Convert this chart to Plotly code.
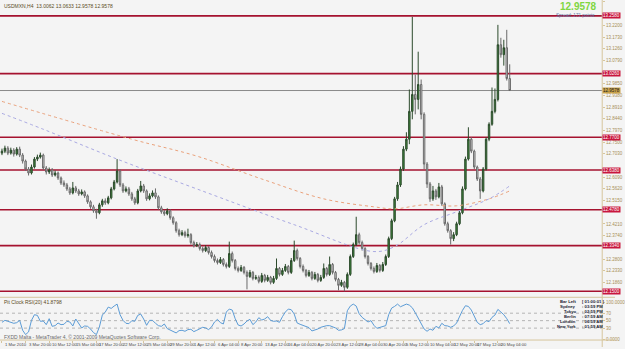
import plotly.graph_objects as go

# ---------------- data ----------------
symbol_header = "USDMXN,H4  13.0062 13.0633 12.9578 12.9578"
bid_price = 12.9578
spread_text = "Spread: 171 points"

bars = list(range(173))

opens = [12.706, 12.714, 12.726, 12.706, 12.718, 12.702, 12.722, 12.698, 12.674, 12.642,
 12.626, 12.650, 12.682, 12.690, 12.698, 12.646, 12.630, 12.638, 12.618, 12.626,
 12.606, 12.586, 12.578, 12.562, 12.546, 12.566, 12.554, 12.542, 12.550, 12.534,
 12.510, 12.490, 12.474, 12.466, 12.498, 12.514, 12.506, 12.526, 12.562, 12.590,
 12.634, 12.578, 12.554, 12.562, 12.542, 12.522, 12.506, 12.554, 12.574, 12.554,
 12.522, 12.534, 12.546, 12.530, 12.486, 12.470, 12.462, 12.474, 12.446, 12.426,
 12.394, 12.378, 12.386, 12.374, 12.378, 12.346, 12.334, 12.338, 12.322, 12.314,
 12.326, 12.306, 12.290, 12.274, 12.266, 12.278, 12.258, 12.250, 12.302, 12.274,
 12.242, 12.234, 12.246, 12.226, 12.210, 12.226, 12.202, 12.206, 12.190, 12.214,
 12.194, 12.206, 12.186, 12.202, 12.242, 12.218, 12.234, 12.250, 12.226, 12.274,
 12.314, 12.282, 12.250, 12.234, 12.214, 12.226, 12.202, 12.218, 12.194, 12.206,
 12.242, 12.218, 12.258, 12.226, 12.198, 12.174, 12.186, 12.166, 12.218, 12.290,
 12.338, 12.378, 12.346, 12.322, 12.290, 12.262, 12.242, 12.230, 12.254, 12.234,
 12.258, 12.290, 12.362, 12.434, 12.522, 12.578, 12.642, 12.722, 12.762, 12.874,
 12.942, 12.922, 12.982, 12.862, 12.662, 12.582, 12.522, 12.554, 12.530, 12.570,
 12.502, 12.422, 12.394, 12.362, 12.378, 12.422, 12.466, 12.562, 12.682, 12.762,
 12.714, 12.650, 12.602, 12.554, 12.642, 12.762, 12.822, 12.874, 12.922, 13.142,
 13.102, 13.130, 13.0062]

highs = [12.724, 12.736, 12.734, 12.728, 12.726, 12.730, 12.732, 12.706, 12.680, 12.650,
 12.660, 12.690, 12.700, 12.708, 12.704, 12.654, 12.648, 12.646, 12.636, 12.632,
 12.612, 12.596, 12.586, 12.570, 12.590, 12.574, 12.562, 12.560, 12.556, 12.540,
 12.516, 12.498, 12.482, 12.506, 12.522, 12.524, 12.534, 12.570, 12.598, 12.682,
 12.642, 12.586, 12.572, 12.570, 12.550, 12.530, 12.562, 12.594, 12.582, 12.560,
 12.544, 12.556, 12.564, 12.536, 12.494, 12.478, 12.484, 12.480, 12.452, 12.432,
 12.402, 12.396, 12.394, 12.402, 12.384, 12.354, 12.348, 12.346, 12.330, 12.336,
 12.332, 12.314, 12.298, 12.282, 12.288, 12.284, 12.266, 12.350, 12.310, 12.280,
 12.250, 12.256, 12.252, 12.234, 12.236, 12.232, 12.216, 12.214, 12.224, 12.220,
 12.216, 12.212, 12.212, 12.282, 12.248, 12.244, 12.260, 12.256, 12.284, 12.354,
 12.322, 12.288, 12.258, 12.240, 12.236, 12.232, 12.228, 12.224, 12.216, 12.262,
 12.248, 12.290, 12.264, 12.232, 12.204, 12.196, 12.192, 12.226, 12.298, 12.346,
 12.450, 12.386, 12.354, 12.328, 12.296, 12.268, 12.250, 12.264, 12.260, 12.268,
 12.298, 12.370, 12.442, 12.530, 12.590, 12.652, 12.734, 12.790, 12.962, 13.254,
 13.022, 13.114, 13.002, 12.870, 12.670, 12.590, 12.574, 12.562, 12.586, 12.578,
 12.508, 12.430, 12.400, 12.388, 12.430, 12.474, 12.572, 12.692, 12.810, 12.770,
 12.720, 12.656, 12.610, 12.650, 12.770, 12.830, 12.970, 12.966, 13.222, 13.170,
 13.162, 13.202, 13.0633]

lows = [12.698, 12.706, 12.698, 12.700, 12.692, 12.696, 12.690, 12.664, 12.634, 12.616,
 12.620, 12.644, 12.674, 12.684, 12.638, 12.620, 12.622, 12.610, 12.612, 12.598,
 12.578, 12.570, 12.554, 12.538, 12.540, 12.546, 12.534, 12.536, 12.526, 12.502,
 12.482, 12.466, 12.442, 12.460, 12.490, 12.498, 12.500, 12.520, 12.556, 12.584,
 12.570, 12.546, 12.548, 12.534, 12.514, 12.498, 12.500, 12.548, 12.546, 12.514,
 12.516, 12.528, 12.522, 12.478, 12.462, 12.454, 12.456, 12.438, 12.418, 12.386,
 12.370, 12.372, 12.366, 12.366, 12.338, 12.326, 12.328, 12.314, 12.306, 12.308,
 12.298, 12.282, 12.266, 12.258, 12.260, 12.250, 12.242, 12.244, 12.266, 12.234,
 12.226, 12.228, 12.218, 12.158, 12.204, 12.194, 12.196, 12.182, 12.184, 12.186,
 12.188, 12.178, 12.180, 12.196, 12.210, 12.212, 12.228, 12.218, 12.220, 12.268,
 12.274, 12.242, 12.226, 12.206, 12.208, 12.194, 12.196, 12.186, 12.188, 12.200,
 12.210, 12.212, 12.218, 12.190, 12.154, 12.168, 12.150, 12.160, 12.212, 12.284,
 12.332, 12.338, 12.314, 12.282, 12.254, 12.234, 12.222, 12.224, 12.226, 12.228,
 12.252, 12.284, 12.356, 12.428, 12.514, 12.570, 12.634, 12.714, 12.742, 12.842,
 12.862, 12.882, 12.842, 12.642, 12.566, 12.510, 12.514, 12.518, 12.524, 12.494,
 12.414, 12.386, 12.338, 12.352, 12.372, 12.416, 12.460, 12.556, 12.676, 12.706,
 12.642, 12.594, 12.522, 12.548, 12.636, 12.754, 12.816, 12.866, 12.914, 13.090,
 13.058, 12.998, 12.9578]

closes = [12.714, 12.726, 12.706, 12.718, 12.702, 12.722, 12.698, 12.674, 12.642, 12.626,
 12.650, 12.682, 12.690, 12.698, 12.646, 12.630, 12.638, 12.618, 12.626, 12.606,
 12.586, 12.578, 12.562, 12.546, 12.566, 12.554, 12.542, 12.550, 12.534, 12.510,
 12.490, 12.474, 12.466, 12.498, 12.514, 12.506, 12.526, 12.562, 12.590, 12.634,
 12.578, 12.554, 12.562, 12.542, 12.522, 12.506, 12.554, 12.574, 12.554, 12.522,
 12.534, 12.546, 12.530, 12.486, 12.470, 12.462, 12.474, 12.446, 12.426, 12.394,
 12.378, 12.386, 12.374, 12.378, 12.346, 12.334, 12.338, 12.322, 12.314, 12.326,
 12.306, 12.290, 12.274, 12.266, 12.278, 12.258, 12.250, 12.302, 12.274, 12.242,
 12.234, 12.246, 12.226, 12.210, 12.226, 12.202, 12.206, 12.190, 12.214, 12.194,
 12.206, 12.186, 12.202, 12.242, 12.218, 12.234, 12.250, 12.226, 12.274, 12.314,
 12.282, 12.250, 12.234, 12.214, 12.226, 12.202, 12.218, 12.194, 12.206, 12.242,
 12.218, 12.258, 12.226, 12.198, 12.174, 12.186, 12.166, 12.218, 12.290, 12.338,
 12.378, 12.346, 12.322, 12.290, 12.262, 12.242, 12.230, 12.254, 12.234, 12.258,
 12.290, 12.362, 12.434, 12.522, 12.578, 12.642, 12.722, 12.762, 12.874, 12.942,
 12.922, 12.982, 12.862, 12.662, 12.582, 12.522, 12.554, 12.530, 12.570, 12.502,
 12.422, 12.394, 12.362, 12.378, 12.422, 12.466, 12.562, 12.682, 12.762, 12.714,
 12.650, 12.602, 12.554, 12.642, 12.762, 12.822, 12.874, 12.922, 13.142, 13.102,
 13.130, 13.006, 12.9578]

rsi = [45.5, 50.8, 48.2, 45.5, 42.9, 44.6, 50.8, 24.2, 12.6, 19.7,
 50.8, 66.0, 64.2, 48.2, 49.1, 39.3, 55.3, 34.8, 36.6, 43.7,
 39.3, 40.2, 48.2, 46.4, 35.7, 54.4, 41.9, 30.4, 35.7, 34.8,
 27.7, 18.0, 12.6, 33.1, 65.1, 73.1, 86.4, 82.8, 89.1, 94.4,
 66.0, 50.8, 42.9, 41.9, 50.0, 48.2, 64.2, 67.7, 54.4, 37.5,
 50.8, 50.8, 42.9, 36.6, 34.8, 41.1, 28.6, 25.1, 20.6, 17.1,
 23.3, 24.2, 21.5, 26.0, 26.9, 20.6, 24.2, 27.7, 32.2, 30.4,
 26.0, 33.1, 46.4, 53.5, 44.6, 41.1, 73.1, 81.1, 78.4, 55.3,
 38.4, 35.7, 41.1, 49.1, 53.5, 39.3, 46.4, 58.0, 51.7, 54.4,
 60.6, 50.8, 48.2, 49.1, 45.5, 60.6, 73.1, 81.1, 79.3, 67.7,
 43.7, 40.2, 36.6, 34.8, 31.3, 22.4, 24.2, 27.7, 32.2, 34.8,
 36.6, 36.6, 33.9, 30.4, 24.2, 25.1, 28.6, 76.6, 89.1, 94.4,
 89.1, 68.6, 58.8, 53.5, 46.4, 50.0, 37.5, 29.5, 31.3, 34.8,
 36.6, 66.0, 83.7, 88.2, 94.4, 87.3, 90.9, 94.4, 91.7, 84.6,
 71.3, 55.3, 39.3, 27.7, 21.5, 27.7, 24.2, 34.8, 30.4, 42.9,
 36.6, 35.7, 32.2, 35.7, 43.7, 62.4, 77.5, 90.0, 88.2, 78.4,
 62.4, 45.5, 39.3, 41.9, 50.0, 47.3, 58.8, 65.1, 80.2, 73.1,
 66.0, 55.3, 41.88]
rsi_levels = [70, 50, 30]
rsi_title = "RSI(20) 41.8798"

ma_slow_bars = [0, 44, 66, 88, 109, 126, 133, 143, 154, 165, 172]
ma_slow_vals = [12.914, 12.762, 12.694, 12.602, 12.522, 12.490, 12.482, 12.498, 12.494, 12.522, 12.554]
ma_fast_bars = [0, 14, 39, 66, 99, 126, 133, 143, 154, 165, 172]
ma_fast_vals = [12.866, 12.802, 12.682, 12.562, 12.418, 12.310, 12.330, 12.418, 12.470, 12.522, 12.574]

sr_levels = [13.258, 13.026, 12.770, 12.638, 12.478, 12.334, 12.150]

# axis price labels (those hidden under the level labels are left out, as on the terminal)
price_ticks = [13.3140, 13.2200, 13.1730, 13.1260, 13.0790, 12.9850,
               12.9380, 12.8910, 12.8440, 12.7970, 12.7500, 12.7030, 12.6090,
               12.5620, 12.5150, 12.4210, 12.3740, 12.2800, 12.2330, 12.1860]

time_bars = [0, 8, 16, 24, 32, 40, 48, 56, 64, 72, 80, 88, 96, 104, 112, 120, 128, 136, 144, 152, 160, 168]
time_labels = ["1 Mar 2010", "3 Mar 20:00", "10 Mar 12:00", "15 Mar 04:00", "17 Mar 20:00",
               "22 Mar 12:00", "25 Mar 04:00", "29 Mar 20:00", "1 Apr 12:00", "6 Apr 04:00",
               "8 Apr 20:00", "13 Apr 12:00", "16 Apr 04:00", "20 Apr 20:00", "23 Apr 12:00",
               "28 Apr 04:00", "30 Apr 20:00", "5 May 12:00", "10 May 04:00", "12 May 20:00",
               "17 May 12:00", "20 May 04:00"]

clock_names = ["Bar Left", "Sydney", "Tokyo", "Berlin", "London", "New York"]
clock_values = ["[ 01:00:01 ]", ": 03:59 PM", ": 02:59 PM", ": 07:59 AM", ": 06:59 AM", ": 01:59 AM"]

# ---------------- layout constants ----------------
W, H = 625, 349
PLOT_R = 612 / W
FONT = "Liberation Sans, Arial, sans-serif"
TAN = "#d6c59c"
RED = "#a5122f"
BG = "#f4f4f4"
AXFS = 4.5


def py(px):
    return 1 - px / H


fig = go.Figure()

fig.add_trace(go.Candlestick(
    x=bars, open=opens, high=highs, low=lows, close=closes,
    increasing=dict(line=dict(color="#2c4a2c", width=1), fillcolor="#3e8a3a"),
    decreasing=dict(line=dict(color="#6a6a6a", width=1), fillcolor="#d4d4d4"),
    whiskerwidth=0, showlegend=False, hoverinfo="skip", xaxis="x", yaxis="y"))

fig.add_trace(go.Scatter(x=ma_slow_bars, y=ma_slow_vals, mode="lines",
                         line=dict(color="#eaa27c", width=1, dash="dot", shape="spline"),
                         showlegend=False, hoverinfo="skip", xaxis="x", yaxis="y"))
fig.add_trace(go.Scatter(x=ma_fast_bars, y=ma_fast_vals, mode="lines",
                         line=dict(color="#a9a9e2", width=1, dash="dot", shape="spline"),
                         showlegend=False, hoverinfo="skip", xaxis="x", yaxis="y"))

fig.add_trace(go.Scatter(x=bars, y=rsi, mode="lines",
                         line=dict(color="#5b9bd5", width=1),
                         showlegend=False, hoverinfo="skip", xaxis="x2", yaxis="y2"))

shapes = []
for lv in sr_levels:
    shapes.append(dict(type="line", xref="paper", yref="y", x0=0, x1=PLOT_R, y0=lv, y1=lv,
                       line=dict(color=RED, width=1.6), layer="below"))
shapes.append(dict(type="line", xref="paper", yref="y", x0=0, x1=PLOT_R, y0=bid_price, y1=bid_price,
                   line=dict(color="#8a8a8a", width=1), layer="below"))
for lv in rsi_levels:
    shapes.append(dict(type="line", xref="paper", yref="y2", x0=0, x1=PLOT_R, y0=lv, y1=lv,
                       line=dict(color="#b4b4b4", width=1, dash="dot"), layer="below"))
# frame lines
shapes.append(dict(type="line", xref="paper", yref="paper", x0=PLOT_R, x1=PLOT_R, y0=0, y1=1,
                   line=dict(color=TAN, width=1)))
for ypx in [299, 342]:
    shapes.append(dict(type="line", xref="paper", yref="paper", x0=0, x1=1, y0=py(ypx), y1=py(ypx),
                       line=dict(color=TAN, width=1)))

ann = []
# header
ann.append(dict(text=symbol_header, xref="paper", yref="paper", x=2 / W, y=py(1), xanchor="left",
                yanchor="top", showarrow=False, font=dict(family=FONT, size=5, color="#5a4a22")))
ann.append(dict(text="<b>%.4f</b>" % bid_price, xref="paper", yref="paper", x=609 / W, y=py(6.5),
                xanchor="right", yanchor="middle", showarrow=False,
                font=dict(family=FONT, size=10, color="#7fd642")))
ann.append(dict(text=spread_text, xref="paper", yref="paper", x=607 / W, y=py(15.5),
                xanchor="right", yanchor="middle", showarrow=False,
                font=dict(family=FONT, size=4.6, color="#5a74a8")))
# price labels on right axis
for lv in sr_levels:
    ann.append(dict(text="%.4f" % lv, xref="paper", yref="y", x=PLOT_R, y=lv, xanchor="left",
                    yanchor="middle", showarrow=False, bgcolor="#c8163e", borderpad=0,
                    font=dict(family=FONT, size=AXFS, color="white")))
ann.append(dict(text="%.4f" % bid_price, xref="paper", yref="y", x=PLOT_R, y=bid_price, xanchor="left",
                yanchor="middle", showarrow=False, bgcolor="#c9a24a", borderpad=0,
                font=dict(family=FONT, size=AXFS, color="#202020")))
# RSI panel texts
ann.append(dict(text="Pit Clock", xref="paper", yref="paper", x=2 / W, y=py(304), xanchor="left",
                yanchor="middle", showarrow=False, font=dict(family=FONT, size=5, color="#5a4a22")))
ann.append(dict(text=rsi_title, xref="paper", yref="paper", x=23 / W, y=py(304), xanchor="left",
                yanchor="middle", showarrow=False, font=dict(family=FONT, size=5, color="#5a4a22")))
ann.append(dict(text="FXDD Malta - MetaTrader 4, © 2001-2009 MetaQuotes Software Corp.",
                xref="paper", yref="paper", x=2 / W, y=py(339), xanchor="left", yanchor="middle",
                showarrow=False, font=dict(family=FONT, size=5, color="#6a6a6a")))
for k, (nm, vl) in enumerate(zip(clock_names, clock_values)):
    ypx = 303.5 + k * 5.0
    ann.append(dict(text="<b>%s</b>" % nm, xref="paper", yref="paper", x=587 / W, y=py(ypx),
                    xanchor="right", yanchor="middle", showarrow=False,
                    font=dict(family=FONT, size=4.2, color="#1a1a30")))
    ann.append(dict(text="<b>%s</b>" % vl, xref="paper", yref="paper", x=589 / W, y=py(ypx),
                    xanchor="left", yanchor="middle", showarrow=False,
                    font=dict(family=FONT, size=4.2, color="#1a1a30")))
# time labels
for tb, tl in zip(time_bars, time_labels):
    ann.append(dict(text=tl, xref="x2", yref="paper", x=tb, y=py(346), xanchor="left", xshift=1,
                    yanchor="middle", showarrow=False, font=dict(family=FONT, size=4.2, color="#4a4a4a")))

xr = [-2 / 3, 610 / 3]
fig.update_layout(
    width=W, height=H, margin=dict(l=0, r=0, t=0, b=0),
    paper_bgcolor=BG, plot_bgcolor=BG, showlegend=False,
    shapes=shapes, annotations=ann,
    xaxis=dict(domain=[0, PLOT_R], range=xr, visible=False, rangeslider=dict(visible=False), anchor="y"),
    yaxis=dict(domain=[py(297), 1], range=[13.322 - 297 * 0.004, 13.322], side="right", anchor="x",
               tickvals=price_ticks, ticktext=["%.4f" % v for v in price_ticks],
               tickfont=dict(family=FONT, size=AXFS, color="#a88f58"), ticks="outside", ticklen=2,
               tickcolor=TAN, showgrid=False, zeroline=False, showline=False),
    xaxis2=dict(domain=[0, PLOT_R], range=xr, anchor="y2", tickvals=time_bars, showticklabels=False,
                ticks="outside", ticklen=2, tickcolor=TAN, showgrid=False, zeroline=False, showline=False),
    yaxis2=dict(domain=[py(342), py(300)], range=[-2, 110], side="right", anchor="x2",
                tickvals=[0, 30, 50, 70, 100], ticktext=["0.0000", "30", "50", "70", "100.0000"],
                tickfont=dict(family=FONT, size=AXFS, color="#a88f58"), ticks="outside", ticklen=2,
                tickcolor=TAN, showgrid=False, zeroline=False, showline=False),
)

fig.write_html("out.html")
